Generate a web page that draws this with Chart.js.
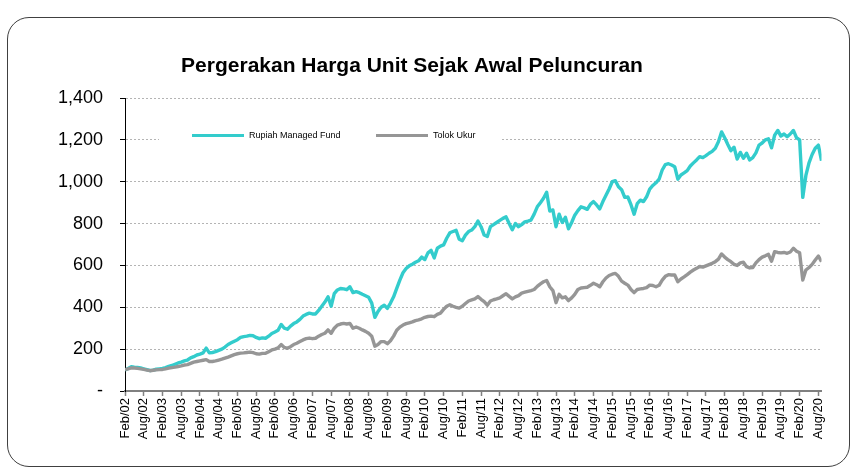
<!DOCTYPE html>
<html><head><meta charset="utf-8">
<script src="https://cdn.jsdelivr.net/npm/chart.js@4.4.0/dist/chart.umd.min.js"></script>
<style>
html,body{margin:0;padding:0;background:#fff;}
#wrap{position:relative;width:851px;height:469px;overflow:hidden;}
#frame{position:absolute;left:7px;top:17px;width:841px;height:448px;border:1px solid #404040;border-radius:22px;}
canvas{position:absolute;left:0;top:0;}
</style></head><body>
<div id="wrap"><div id="frame"></div><canvas id="c" width="851" height="469"></canvas></div>
<script>
const FONT = "'Liberation Sans', Arial, sans-serif";
const chartTitle = 'Pergerakan Harga Unit Sejak Awal Peluncuran';
const seriesNames = ['Rupiah Managed Fund', 'Tolok Ukur'];
const tickLabels = ['Feb/02','Aug/02','Feb/03','Aug/03','Feb/04','Aug/04','Feb/05','Aug/05','Feb/06','Aug/06',
  'Feb/07','Aug/07','Feb/08','Aug/08','Feb/09','Aug/09','Feb/10','Aug/10','Feb/11','Aug/11',
  'Feb/12','Aug/12','Feb/13','Aug/13','Feb/14','Aug/14','Feb/15','Aug/15','Feb/16','Aug/16',
  'Feb/17','Aug/17','Feb/18','Aug/18','Feb/19','Aug/19','Feb/20','Aug/20'];
const yTicks = [0, 200, 400, 600, 800, 1000, 1200, 1400];
// monthly values, Feb/02 .. Sep/20
const fund = [
100,108,116,114,113,110,106,102,98,100,104,106,
108,112,118,122,128,134,138,144,148,158,164,172,
176,182,205,182,184,188,194,200,210,222,230,238,
245,256,260,262,266,264,256,250,254,252,262,275,
282,290,318,300,295,310,322,330,342,358,366,372,
368,368,385,405,425,450,405,465,483,490,488,484,
498,470,475,470,462,455,448,420,352,380,400,410,
395,420,450,490,530,565,585,598,606,615,622,640,
628,660,672,636,682,692,698,730,756,762,768,725,
718,745,762,769,785,812,785,745,738,785,795,805,
815,825,832,800,770,800,785,795,808,812,817,845,
880,900,921,950,860,865,785,845,805,830,775,805,
840,862,880,875,868,892,905,889,870,905,935,965,
1000,1005,976,962,925,927,890,845,895,912,905,928,
965,982,995,1012,1056,1082,1086,1080,1072,1012,1032,1042,
1053,1075,1090,1104,1120,1115,1125,1136,1145,1160,1191,1238,
1210,1178,1148,1165,1108,1140,1112,1136,1104,1115,1138,1175,
1185,1200,1205,1162,1222,1245,1218,1228,1215,1228,1245,1210,
1200,925,1030,1090,1130,1160,1175,1100];
const benchmark = [
102,106,110,110,108,106,103,100,97,99,101,102,
103,106,109,112,114,117,120,124,126,132,138,141,
144,147,150,141,141,144,148,152,157,162,168,174,
178,181,182,184,186,183,178,176,180,180,188,196,
200,206,222,208,204,212,222,228,236,244,250,253,
250,252,262,270,276,292,276,300,315,320,323,320,
323,300,306,300,292,285,276,262,214,222,236,236,
226,240,262,290,305,315,322,326,330,336,340,345,
352,356,358,355,366,372,390,405,412,405,400,396,
405,418,430,435,440,451,438,427,410,430,436,440,
445,455,465,452,440,450,456,468,472,476,480,485,
500,512,522,528,498,480,422,462,445,450,432,445,
462,485,492,494,496,505,515,508,498,522,540,552,
558,562,548,525,515,506,485,470,485,488,490,494,
506,504,498,505,530,548,556,554,554,522,535,545,
556,568,578,586,595,592,598,604,610,618,630,655,
640,628,618,605,600,612,615,594,588,590,612,628,
640,646,653,620,666,662,660,662,658,664,682,668,
660,530,578,590,605,626,645,618];

const overlay = {
  id: 'overlay',
  beforeDatasetsDraw(chart) {
    const ctx = chart.ctx;
    ctx.save();
    ctx.fillStyle = '#ffffff';
    ctx.fillRect(159, 127, 343, 19);
    const colors = [chart.data.datasets[0].borderColor, chart.data.datasets[1].borderColor];
    const items = [{x: 192, w: 52}, {x: 376, w: 52}];
    ctx.font = '9px ' + FONT;
    ctx.textBaseline = 'middle';
    ctx.textAlign = 'left';
    items.forEach((it, i) => {
      ctx.strokeStyle = colors[i];
      ctx.lineWidth = 3;
      ctx.beginPath();
      ctx.moveTo(it.x, 135.5);
      ctx.lineTo(it.x + it.w, 135.5);
      ctx.stroke();
      ctx.fillStyle = '#000';
      ctx.fillText(seriesNames[i], it.x + it.w + 5, 136);
    });
    ctx.restore();
  },
  afterDraw(chart) {
    const ctx = chart.ctx;
    ctx.save();
    ctx.font = 'bold 21px ' + FONT;
    ctx.fillStyle = '#000';
    ctx.textAlign = 'center';
    ctx.textBaseline = 'middle';
    ctx.fillText(chartTitle, 412, 66);
    ctx.restore();
  }
};

new Chart(document.getElementById('c'), {
  type: 'line',
  data: {
    datasets: [
      {label: seriesNames[0], data: fund.map((v, i) => ({x: i, y: v})), borderColor: '#33cccc',
       borderWidth: 3.4, pointRadius: 0, tension: 0, borderJoinStyle: 'round', order: 1},
      {label: seriesNames[1], data: benchmark.map((v, i) => ({x: i, y: v})), borderColor: '#969696',
       borderWidth: 3.4, pointRadius: 0, tension: 0, borderJoinStyle: 'round', order: 0}
    ]
  },
  options: {
    responsive: false, animation: false, devicePixelRatio: 1,
    layout: {padding: {top: 98, right: 29.5, left: 0, bottom: 0}},
    plugins: {legend: {display: false}, tooltip: {enabled: false}, title: {display: false}},
    scales: {
      x: {
        type: 'linear', min: 0, max: fund.length - 1,
        afterFit(s) { s.height = 78; },
        ticks: {stepSize: 6, autoSkip: false, includeBounds: false, minRotation: 90, maxRotation: 90,
          padding: 2, color: '#000', font: {family: FONT, size: 13},
          callback: (v) => tickLabels[Math.round(v / 6)]},
        grid: {drawOnChartArea: false, drawTicks: true, tickLength: 5, tickColor: '#808080', tickWidth: 1.5},
        border: {color: '#808080', width: 2}
      },
      y: {
        min: yTicks[0], max: yTicks[yTicks.length - 1],
        afterFit(s) { s.width = 125; },
        ticks: {stepSize: 200, padding: 17, color: '#000', font: {family: FONT, size: 18},
          callback: (v) => v === 0 ? '-' : v.toLocaleString('en-US')},
        grid: {color: (c) => (c.tick && c.tick.value === 0) ? 'rgba(0,0,0,0)' : '#b4b4b4',
          lineWidth: 1, tickLength: 5, tickColor: '#000', tickWidth: 1},
        border: {color: '#000', width: 1, dash: [2, 2]}
      }
    }
  },
  plugins: [overlay]
});
</script>
</body></html>
